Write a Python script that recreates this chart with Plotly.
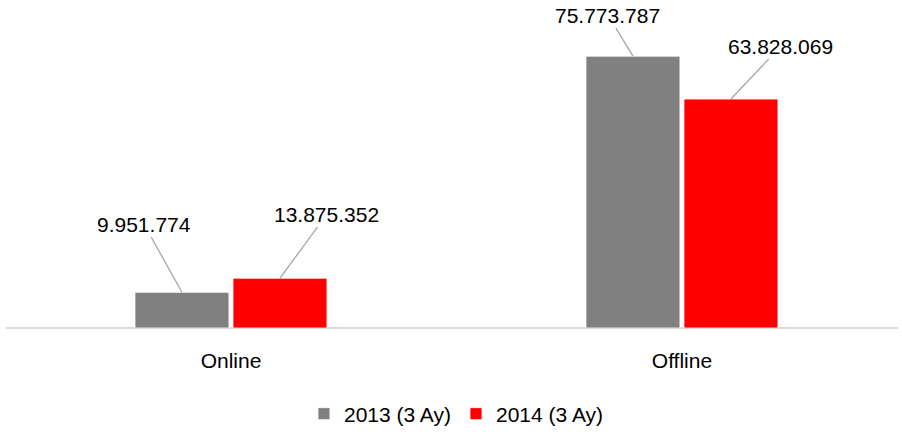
import plotly.graph_objects as go

categories = ["Online", "Offline"]
series_names = ["2013 (3 Ay)", "2014 (3 Ay)"]
values_2013 = [9951774, 75773787]
values_2014 = [13875352, 63828069]
labels_2013 = ["9.951.774", "75.773.787"]
labels_2014 = ["13.875.352", "63.828.069"]

colors = ["#808080", "#FF0000"]
bar_w = 0.2084
offsets = [-0.2129, 0.0044]
xpos = [0, 1]

# label pixel offsets (ax, ay) per series per category
label_offsets = [
    [(-38, -68), (-25, -41)],
    [(47, -64), (50, -53)],
]

fig = go.Figure()
for s, (name, vals) in enumerate(zip(series_names, [values_2013, values_2014])):
    fig.add_trace(go.Bar(
        x=xpos, y=vals, name=name,
        width=bar_w, offset=offsets[s],
        marker=dict(color=colors[s], line=dict(color="white", width=0.8)),
    ))

for s, labs in enumerate([labels_2013, labels_2014]):
    vals = [values_2013, values_2014][s]
    for i, lab in enumerate(labs):
        ax, ay = label_offsets[s][i]
        fig.add_annotation(
            x=xpos[i] + offsets[s] + bar_w / 2, y=vals[i],
            text=lab, showarrow=True, arrowhead=0, arrowwidth=1.3,
            arrowcolor="#a6a6a6", ax=ax, ay=ay, standoff=0,
            font=dict(family="Liberation Sans", size=21, color="#000000"),
        )

fig.update_layout(
    width=902, height=434,
    margin=dict(l=6, r=4, t=41, b=106, autoexpand=False),
    paper_bgcolor="white", plot_bgcolor="white",
    showlegend=True,
    legend=dict(orientation="h", x=0.505, xanchor="center",
                yref="container", y=0.046, yanchor="middle",
                font=dict(family="Liberation Sans", size=21, color="#000000"),
                itemwidth=30, traceorder="normal"),
    font=dict(family="Liberation Sans"),
)
fig.update_xaxes(
    range=[-0.4989, 1.479], tickvals=xpos, ticktext=categories,
    showgrid=False, zeroline=False, showline=False, ticks="",
    ticklabelstandoff=18, automargin=False,
    tickfont=dict(family="Liberation Sans", size=21, color="#000000"),
)
fig.update_yaxes(
    range=[0, 80000000], showgrid=False, showticklabels=False,
    zeroline=True, zerolinecolor="#d9d9d9", zerolinewidth=2, showline=False,
    automargin=False,
)

fig.write_html("out.html", config={"displayModeBar": False},
               post_script="document.body.style.margin='0';")
